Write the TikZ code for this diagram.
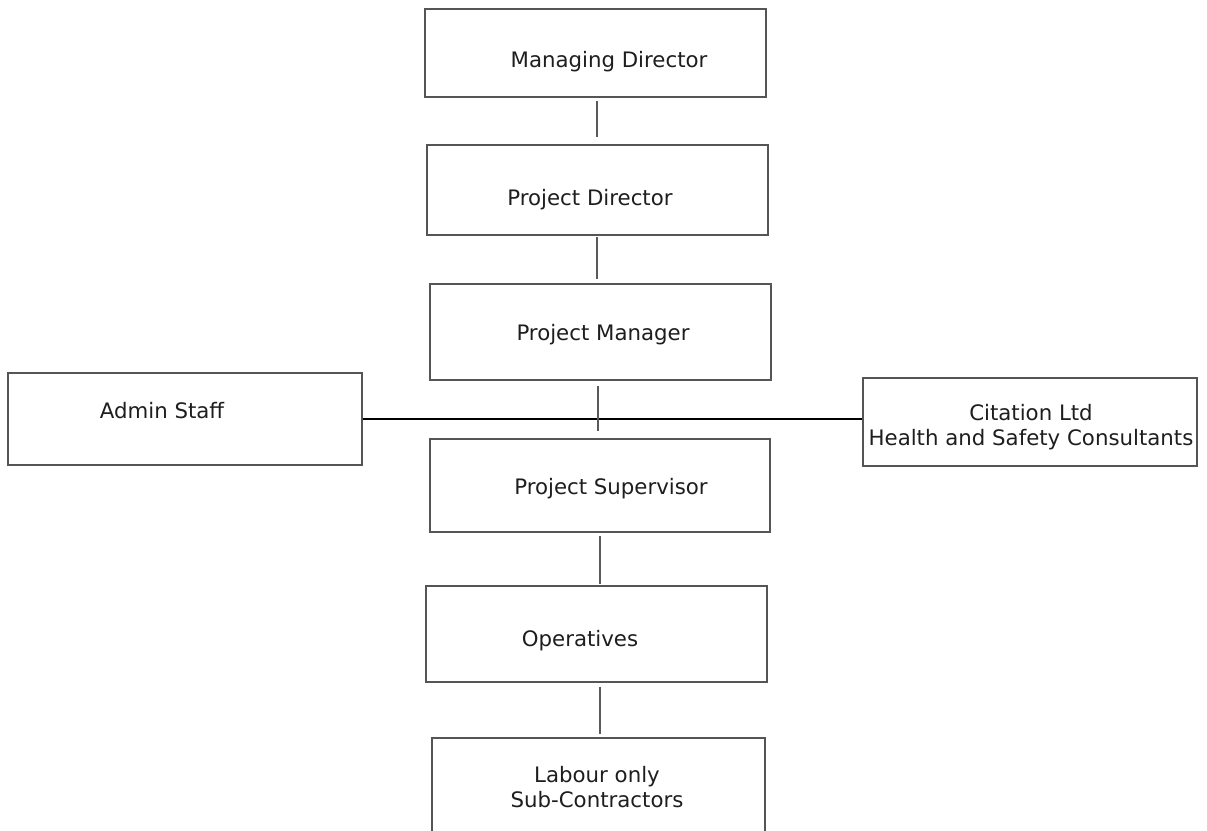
\documentclass[tikz,border=0pt]{standalone}
\usepackage{fontspec}
\setmainfont{DejaVu Sans}
\definecolor{boxline}{HTML}{555555}
\definecolor{txt}{HTML}{1E1E1E}
\definecolor{connline}{HTML}{5A5A5A}
\begin{document}
\begin{tikzpicture}[x=1pt,y=-1pt,
  box/.style={draw=boxline,line width=1.4pt,rectangle,inner sep=0pt},
  lbl/.style={text=txt,font=\fontsize{21.3}{25}\selectfont,align=center,inner sep=0pt},
  conn/.style={draw=connline,line width=1.6pt},
  hconn/.style={draw=black,line width=1.3pt}]
\useasboundingbox (0,0) rectangle (1207,830);
\clip (0,0) rectangle (1207,830);
\fill[white] (0,0) rectangle (1207,830);
% boxes
\node[box,minimum width=341,minimum height=88] (md) at (595.5,53) {};
\node[box,minimum width=341,minimum height=90] (pd) at (597.5,190) {};
\node[box,minimum width=341,minimum height=96] (pm) at (600.5,332) {};
\node[box,minimum width=354,minimum height=92] (admin) at (185,419) {};
\node[box,minimum width=334,minimum height=88] (cit) at (1030,422) {};
\node[box,minimum width=340,minimum height=93] (ps) at (600,485.5) {};
\node[box,minimum width=341,minimum height=96] (op) at (596.5,634) {};
\node[box,minimum width=333,minimum height=120] (lab) at (598.5,798) {};
% texts
\node[lbl] (mdt) at (609,62) {Managing Director};
\node[lbl] (pdt) at (590,200) {Project Director};
\node[lbl] (pmt) at (603,335) {Project Manager};
\node[lbl] (admint) at (162,411) {Admin Staff};
\node[lbl] (citt) at (1031,427) {Citation Ltd\\Health and Safety Consultants};
\node[lbl] (pst) at (611,489) {Project Supervisor};
\node[lbl] (opt) at (580,641) {Operatives};
\node[lbl] (labt) at (597,787) {Labour only\\Sub-Contractors};
% connectors
\draw[hconn] (admin.east) -- (admin.east -| cit.west);
\draw[conn,shorten <=3pt,shorten >=7pt] ([xshift=1.5pt]md.south) -- ([xshift=1.5pt]md.south |- pd.north);
\draw[conn,shorten <=1pt,shorten >=4pt] ([xshift=-0.5pt]pd.south) -- ([xshift=-0.5pt]pd.south |- pm.north);
\draw[conn,shorten <=5pt,shorten >=7pt] ([xshift=-2.5pt]pm.south) -- ([xshift=-2.5pt]pm.south |- ps.north);
\draw[conn,shorten <=3pt,shorten >=1pt] (ps.south) -- (ps.south |- op.north);
\draw[conn,shorten <=4pt,shorten >=3pt] (ps.south |- op.south) -- (ps.south |- lab.north);
\end{tikzpicture}
\end{document}
